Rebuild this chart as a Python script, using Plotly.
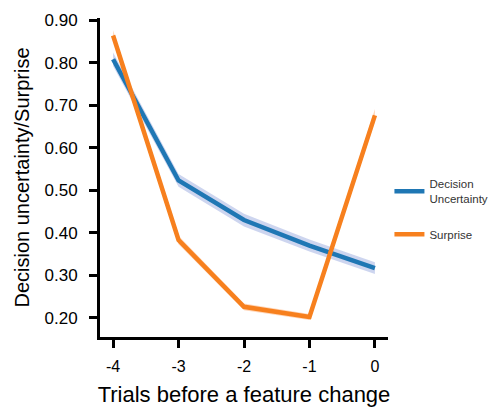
import plotly.graph_objects as go

trials = [-4, -3, -2, -1, 0]
tick_labels = ["-4", "-3", "-2", "-1", "0"]
decision_uncertainty = [0.808, 0.523, 0.430, 0.370, 0.317]
decision_err = [0.016, 0.015, 0.015, 0.014, 0.014]
surprise = [0.864, 0.383, 0.226, 0.202, 0.676]
surprise_err = [0.012, 0.010, 0.008, 0.007, 0.015]

blue = "#1f77b4"
orange = "#f7801e"

fig = go.Figure()

def add_series(name, y, err, color, band):
    upper = [v + e for v, e in zip(y, err)]
    lower = [v - e for v, e in zip(y, err)]
    fig.add_trace(go.Scatter(x=trials, y=upper, mode="lines", line=dict(width=0),
                             showlegend=False, hoverinfo="skip"))
    fig.add_trace(go.Scatter(x=trials, y=lower, mode="lines", line=dict(width=0),
                             fill="tonexty", fillcolor=band, showlegend=False, hoverinfo="skip"))
    fig.add_trace(go.Scatter(x=trials, y=y, mode="lines", name=name,
                             line=dict(color=color, width=4.5), legendgroup=name))

add_series("Decision<br>Uncertainty", decision_uncertainty, decision_err, blue, "rgba(130,150,215,0.40)")
add_series("Surprise", surprise, surprise_err, orange, "rgba(255,165,100,0.45)")

# page body has an 8px default margin, so the figure is sized to fit the window
fig.update_layout(
    width=491, height=399,
    margin=dict(l=92, r=111, t=10, b=70, autoexpand=False),
    paper_bgcolor="white", plot_bgcolor="white",
    font=dict(family="Liberation Sans, Arial, sans-serif", color="black"),
    legend=dict(x=1.005, y=0.40, xanchor="left", yanchor="middle",
                font=dict(size=11.5, color="#333333"), tracegroupgap=17,
                traceorder="grouped", itemwidth=30),
    xaxis=dict(range=[-4.2, 0.2], tickvals=trials, ticktext=tick_labels,
               showline=True, linecolor="black", linewidth=3, automargin=False,
               ticks="outside", ticklen=8, tickwidth=3, tickcolor="black",
               tickfont=dict(size=16), showgrid=False, zeroline=False, ticklabelstandoff=5,
               title=dict(text="Trials before a feature change", font=dict(size=22), standoff=14)),
    yaxis=dict(range=[0.155, 0.905], tickvals=[0.2, 0.3, 0.4, 0.5, 0.6, 0.7, 0.8, 0.9],
               tickformat=".2f", automargin=False,
               showline=True, linecolor="black", linewidth=3,
               ticks="outside", ticklen=8, tickwidth=3, tickcolor="black",
               tickfont=dict(size=17), showgrid=False, zeroline=False, ticklabelstandoff=8,
               title=dict(text="Decision uncertainty/Surprise", font=dict(size=20), standoff=10)),
)

fig.write_html("out.html")
